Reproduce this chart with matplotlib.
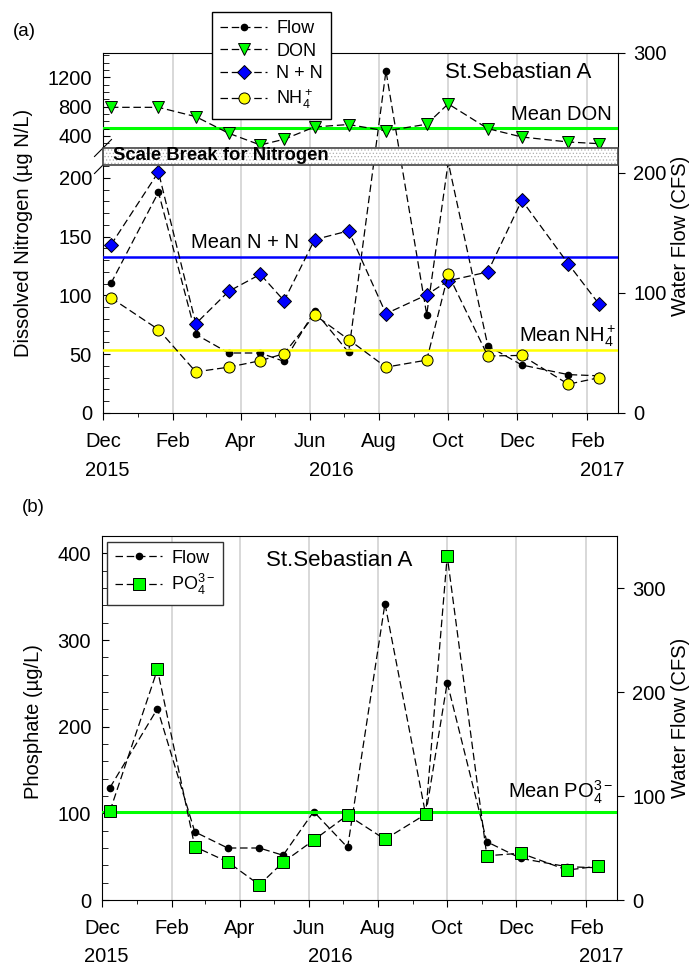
import matplotlib

matplotlib.use("Agg")
import matplotlib.dates as mdates
import matplotlib.transforms as mtransforms
import pandas as pd
from matplotlib import pyplot as plt
from matplotlib.lines import Line2D
from matplotlib.patches import Rectangle
from matplotlib.ticker import MultipleLocator

plt.rcParams["font.family"] = ["Liberation Sans", "DejaVu Sans"]
plt.rcParams["mathtext.fontset"] = "custom"
plt.rcParams["mathtext.rm"] = "Liberation Sans"
plt.rcParams["mathtext.it"] = "Liberation Sans:italic"
plt.rcParams["mathtext.bf"] = "Liberation Sans:bold"
plt.rcParams["hatch.linewidth"] = 0.5

# ---------- dati ----------
dates = pd.to_datetime([
    "2015-12-08", "2016-01-19", "2016-02-21", "2016-03-21", "2016-04-18",
    "2016-05-09", "2016-06-05", "2016-07-05", "2016-08-07", "2016-09-12",
    "2016-10-01", "2016-11-05", "2016-12-05", "2017-01-15", "2017-02-11",
])
flow = [108, 184, 65.5, 50, 50, 43, 85, 50.5, 285, 82, 209, 56, 40, 32, 31]
don = [790, 790, 663, 437, 277, 355, 523, 556, 468, 560, 837, 500, 386, 318, 295]
nn = [143, 205, 76, 103.5, 118, 95.5, 147.5, 155, 84.5, 100.5, 112.5, 120, 181, 127, 93]
nh4 = [98, 71, 35, 39, 44.5, 50.5, 83.5, 62.5, 39, 45, 118, 48.5, 49, 24.5, 30]
po4 = [102.5, 266, 61.5, 44, 17.5, 43.5, 69, 98, 70, 99, 397, 51, 54, 34.5, 39]

mean_don = 510
mean_nn = 133
mean_nh4 = 53.5
mean_po4 = 102

W, H = 693, 966
fig = plt.figure(figsize=(W / 100, H / 100), dpi=100)


def box(l, t, r, b):
    return [l / W, 1 - b / H, (r - l) / W, (b - t) / H]


def fx(px):
    return px / W


def fy(py):
    return 1 - py / H


DASH = dict(color="k", ls="--", dashes=(6, 3), lw=0.9)
FS = 14.5


def setup_xaxis(ax):
    ax.set_xlim(pd.Timestamp("2015-12-01"), pd.Timestamp("2017-02-28"))
    ax.xaxis.set_major_locator(mdates.MonthLocator(bymonth=[2, 4, 6, 8, 10, 12]))
    ax.xaxis.set_minor_locator(mdates.MonthLocator())
    ax.xaxis.set_major_formatter(mdates.DateFormatter("%b"))
    ax.tick_params(axis="x", which="major", direction="out", length=5, pad=8.5, labelsize=FS)
    ax.tick_params(axis="x", which="minor", direction="out", length=3)
    ax.grid(axis="x", which="major", color="#d6d6d6", lw=1.3)
    ax.set_axisbelow(True)


def overlay(ax):
    ax.patch.set_visible(False)
    for s in ax.spines.values():
        s.set_visible(False)
    ax.tick_params(axis="x", which="both", bottom=False, labelbottom=False)
    ax.tick_params(axis="y", which="both", direction="in", left=True, right=False,
                   labelsize=FS, pad=8)
    ax.tick_params(axis="y", which="major", length=5)
    ax.tick_params(axis="y", which="minor", length=4)


# ---------- pannello (a) ----------
ax_a = fig.add_axes(box(103, 53, 618, 413))
setup_xaxis(ax_a)
ax_a.set_ylim(0, 300)
ax_a.set_yticks([0, 100, 200, 300])
ax_a.tick_params(axis="y", direction="out", left=False, right=True, labelleft=False,
                 labelright=True, labelsize=FS, length=5, pad=6)
l_flow, = ax_a.plot(dates, flow, marker="o", ms=4.5, mfc="k", mec="k", **DASH)

ax_lo = fig.add_axes(box(103, 165, 618, 413), sharex=ax_a)
overlay(ax_lo)
ax_lo.set_ylim(0, 211)
ax_lo.set_yticks([0, 50, 100, 150, 200])
ax_lo.yaxis.set_minor_locator(MultipleLocator(10))
ax_lo.axhline(mean_nn, color="#0000ff", lw=1.8, zorder=1.5)
ax_lo.axhline(mean_nh4, color="#ffff00", lw=1.8, zorder=1.5)
l_nn, = ax_lo.plot(dates, nn, marker="D", ms=7, mfc="#0000ff", mec="k", mew=0.7, **DASH)
l_nh4, = ax_lo.plot(dates, nh4, marker="o", ms=8, mfc="#ffff00", mec="k", mew=0.7, **DASH)

ax_hi = fig.add_axes(box(103, 53, 618, 148), sharex=ax_a)
overlay(ax_hi)
ax_hi.set_ylim(236, 1530)
ax_hi.set_yticks([400, 800, 1200])
ax_hi.yaxis.set_minor_locator(MultipleLocator(100))
ax_hi.axhline(mean_don, color="#00ff00", lw=2.2, zorder=1.5)
l_don, = ax_hi.plot(dates, don, marker="v", ms=8.5, mfc="#00ff00", mec="k", mew=0.7, **DASH)

# scale break
for yb in (148, 165):
    fig.add_artist(Line2D([fx(94.5), fx(111.5)], [fy(yb + 8.5), fy(yb - 8.5)],
                          transform=fig.transFigure, color="k", lw=0.8, zorder=2.5))
fig.add_artist(Rectangle((fx(103), fy(165)), 515 / W, 17 / H, transform=fig.transFigure,
                         facecolor="white", edgecolor="#b0b0b0", hatch=".....", lw=0,
                         zorder=3))
fig.add_artist(Rectangle((fx(103), fy(165)), 515 / W, 17 / H, transform=fig.transFigure,
                         fill=False, edgecolor="#444444", lw=1.2, zorder=3.2))
fig.text(fx(113), fy(156), "Scale Break for Nitrogen", fontsize=13.3, fontweight="bold",
         ha="left", va="center", zorder=4)

fig.text(fx(518), fy(73), "St.Sebastian A", fontsize=16, ha="center", va="center")
fig.text(fx(612), fy(115), "Mean DON", fontsize=14.5, ha="right", va="center")
fig.text(fx(245), fy(243), "Mean N + N", fontsize=14.5, ha="center", va="center")
fig.text(fx(616), fy(336), "Mean NH$_4^+$", fontsize=14.5, ha="right", va="center")

fig.legend([l_flow, l_don, l_nn, l_nh4], ["Flow", "DON", "N + N", "NH$_4^+$"],
           loc="upper left", bbox_to_anchor=(fx(212), fy(12)), borderaxespad=0,
           fancybox=False, framealpha=1, edgecolor="k", fontsize=13, numpoints=1,
           handlelength=2.6, handletextpad=0.5, labelspacing=0.3, borderpad=0.45)

fig.text(fx(24), fy(233), "Dissolved Nitrogen (µg N/L)", fontsize=14.5, rotation=90,
         ha="center", va="center")
fig.text(fx(681), fy(236), "Water Flow (CFS)", fontsize=14.5, rotation=90,
         ha="center", va="center")
fig.text(fx(24), fy(32), "(a)", fontsize=13.5, ha="center", va="center")

# ---------- pannello (b) ----------
ax_b = fig.add_axes(box(102, 536, 617, 900))
setup_xaxis(ax_b)
ax_b.set_ylim(0, 350)
ax_b.set_yticks([0, 100, 200, 300])
ax_b.tick_params(axis="y", direction="out", left=False, right=True, labelleft=False,
                 labelright=True, labelsize=FS, length=5, pad=6)
l_flow_b, = ax_b.plot(dates, flow, marker="o", ms=4.5, mfc="k", mec="k", **DASH)

ax_bp = fig.add_axes(box(102, 536, 617, 900), sharex=ax_b)
overlay(ax_bp)
ax_bp.set_ylim(0, 420)
ax_bp.set_yticks([0, 100, 200, 300, 400])
ax_bp.yaxis.set_minor_locator(MultipleLocator(20))
ax_bp.axhline(mean_po4, color="#00ff00", lw=2.2, zorder=1.5)
l_po4, = ax_bp.plot(dates, po4, marker="s", ms=8, mfc="#00ff00", mec="k", mew=0.7, **DASH)

fig.text(fx(339), fy(561), "St.Sebastian A", fontsize=16, ha="center", va="center")
fig.text(fx(613), fy(792), "Mean PO$_4^{3-}$", fontsize=14.5, ha="right", va="center")

fig.legend([l_flow_b, l_po4], ["Flow", "PO$_4^{3-}$"],
           loc="upper left", bbox_to_anchor=(fx(107), fy(541.5)), borderaxespad=0,
           fancybox=False, framealpha=1, edgecolor="#333333", fontsize=13, numpoints=1,
           handlelength=2.6, handletextpad=0.5, labelspacing=0.3, borderpad=0.45)

fig.text(fx(34), fy(722), "Phosphate (µg/L)", fontsize=14.5, rotation=90,
         ha="center", va="center")
fig.text(fx(681), fy(718), "Water Flow (CFS)", fontsize=14.5, rotation=90,
         ha="center", va="center")
fig.text(fx(33), fy(507), "(b)", fontsize=13.5, ha="center", va="center")

# anni sotto i mesi
for ax, yy in ((ax_a, 471), (ax_b, 956)):
    tr = mtransforms.blended_transform_factory(ax.transData, fig.transFigure)
    for d, txt in (("2015-12-05", "2015"), ("2016-06-20", "2016"), ("2017-02-14", "2017")):
        ax.text(mdates.date2num(pd.Timestamp(d)), fy(yy), txt, transform=tr,
                fontsize=FS, ha="center", va="center")

fig.savefig("out.png", dpi=100)
